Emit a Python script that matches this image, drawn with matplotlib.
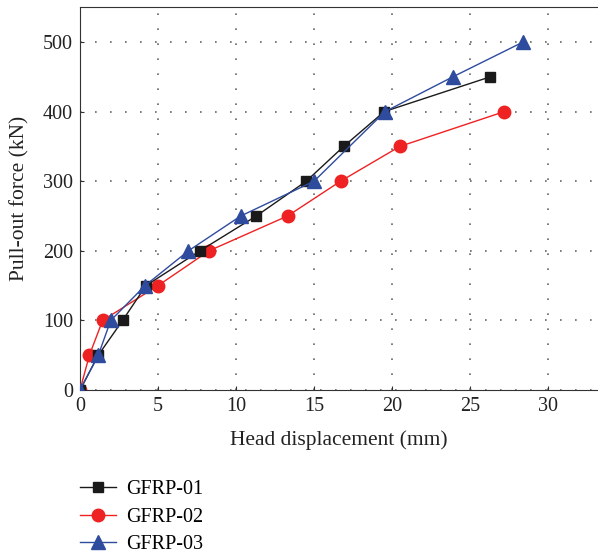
import matplotlib
matplotlib.use("Agg")
import matplotlib.pyplot as plt

plt.rcParams["font.family"] = ["Liberation Serif", "DejaVu Serif"]

# === DATA ===
x01 = [0, 1.17, 2.73, 4.23, 7.69, 11.3, 14.5, 16.9, 19.5, 26.3]
y01 = [0, 50, 100, 150, 200, 250, 300, 350, 400, 450]
x02 = [0, 0.6, 1.45, 5.0, 8.27, 13.3, 16.7, 20.5, 27.2]
y02 = [0, 50, 100, 150, 200, 250, 300, 350, 400]
x03 = [0, 1.17, 1.97, 4.17, 6.95, 10.3, 15.0, 19.55, 23.9, 28.4]
y03 = [0, 50, 100, 150, 200, 250, 300, 400, 450, 500]
labels = ["GFRP-01", "GFRP-02", "GFRP-03"]

fig = plt.figure(figsize=(5.98, 5.54), dpi=100)
ax = fig.add_axes([0.1338, 0.296, 0.8662, 0.691])

ax.plot(x01, y01, color="#1a1a1a", marker="s", markersize=7.5, lw=1, label=labels[0], zorder=3)
ax.plot(x02, y02, color="#ee2222", marker="o", markersize=9, lw=1, label=labels[1], zorder=2)
ax.plot(x03, y03, color="#2e4b9e", marker="^", markersize=10, lw=1, label=labels[2], zorder=4)

ax.set_xlim(0, 33.2)
ax.set_ylim(0, 550)
ax.set_xticks(range(0, 31, 5))
ax.set_yticks(range(0, 501, 100))
ax.grid(True, linestyle=(0, (1, 8)), color="#666666", linewidth=1.2)
ax.tick_params(direction="in", labelsize=14.5, length=3, pad=5, colors="#333333", labelcolor="#222222")
ax.set_xlabel("Head displacement (mm)", fontsize=15.5, labelpad=10, color="#222222")
ax.set_ylabel("Pull-out force (kN)", fontsize=15.5, labelpad=10, color="#222222")
ax.spines["right"].set_visible(False)
for s in ax.spines.values():
    s.set_color("#333333")

fig.legend(loc="upper left", bbox_to_anchor=(0.12, 0.148), frameon=False,
           fontsize=14.5, handlelength=1.8, handletextpad=0.5,
           labelspacing=0.42, borderaxespad=0)

fig.savefig("out.png", dpi=100)
